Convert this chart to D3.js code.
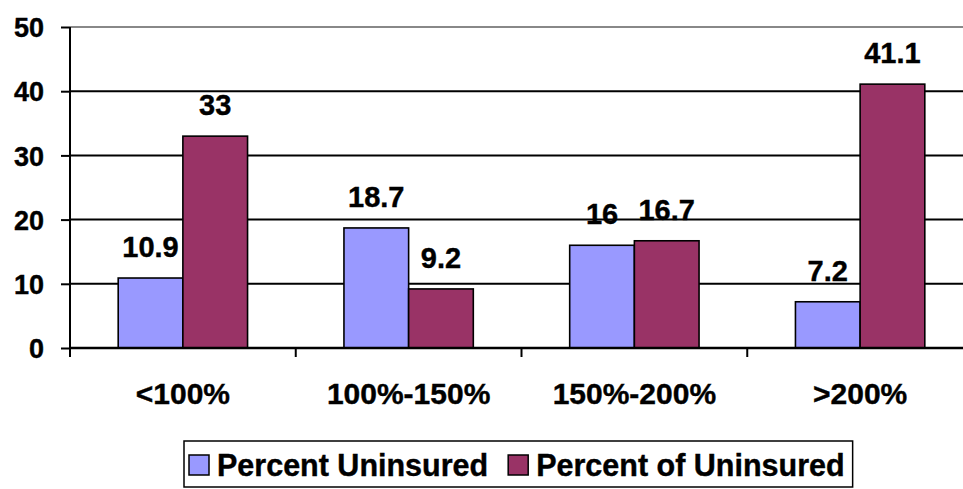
<!DOCTYPE html>
<html>
<head>
<meta charset="utf-8">
<script src="https://cdn.jsdelivr.net/npm/d3@7"></script>
<style>
  body { margin: 0; background: #fff; }
  svg { display: block; font-family: "Liberation Sans", Arial, sans-serif; font-weight: bold; }
  svg text { stroke: #000; stroke-width: 0.4px; }
</style>
</head>
<body>
<div id="chart"></div>
<script>
const categories = ["<100%", "100%-150%", "150%-200%", ">200%"]
const seriesNames = ["Percent Uninsured", "Percent of Uninsured"]
const percentUninsured = [10.9, 18.7, 16, 7.2]
const percentOfUninsured = [33, 9.2, 16.7, 41.1]
const yTicks = [0, 10, 20, 30, 40, 50]
const colors = ["#9999ff", "#993366"]

const width = 963, height = 489
const margin = {top: 27, left: 70, bottom: 141, right: -10}

const svg = d3.select("#chart").append("svg")
  .attr("width", width)
  .attr("height", height)

const rows = categories.map((c, i) => ({cat: c, values: [percentUninsured[i], percentOfUninsured[i]]}))

const x0 = d3.scaleBand()
  .domain(categories)
  .range([margin.left, width - margin.right])
  .paddingInner(0.427)
  .paddingOuter(0.2135)

const x1 = d3.scaleBand()
  .domain(d3.range(seriesNames.length))
  .range([0, x0.bandwidth()])

const y = d3.scaleLinear()
  .domain([0, 50])
  .range([height - margin.bottom, margin.top])

const plotLeft = margin.left, plotRight = width - margin.right

// gridlines + y axis
const yAxis = svg.append("g")
  .attr("transform", `translate(${plotLeft},0)`)
  .call(d3.axisLeft(y).tickValues(yTicks).tickSize(9).tickPadding(17))
yAxis.select(".domain").remove()
yAxis.selectAll(".tick line").attr("stroke", "#000").attr("stroke-width", 2)
yAxis.selectAll(".tick text")
  .attr("font-size", 27)
  .attr("fill", "#000")
  .attr("dy", "0.36em")

svg.append("g").selectAll("line")
  .data(yTicks.filter(t => t > 0))
  .join("line")
  .attr("x1", plotLeft)
  .attr("x2", plotRight)
  .attr("y1", d => y(d))
  .attr("y2", d => y(d))
  .attr("stroke", d => d === 50 ? "#888" : "#000")
  .attr("stroke-width", 2)

// bars
const groups = svg.append("g").selectAll("g")
  .data(rows)
  .join("g")
  .attr("transform", d => `translate(${x0(d.cat)},0)`)

groups.selectAll("rect")
  .data(d => d.values.map((v, i) => ({v, i})))
  .join("rect")
  .attr("x", d => x1(d.i))
  .attr("y", d => y(d.v))
  .attr("width", x1.bandwidth())
  .attr("height", d => y(0) - y(d.v))
  .attr("fill", d => colors[d.i])
  .attr("stroke", "#000")
  .attr("stroke-width", 1.6)

groups.selectAll("text")
  .data(d => d.values.map((v, i) => ({v, i})))
  .join("text")
  .attr("x", d => x1(d.i) + x1.bandwidth() / 2)
  .attr("y", d => y(d.v) - 21)
  .attr("text-anchor", "middle")
  .attr("font-size", 29)
  .attr("fill", "#000")
  .text(d => d.v)

// left axis line and bottom axis
svg.append("line")
  .attr("x1", plotLeft).attr("x2", plotLeft)
  .attr("y1", y(50)).attr("y2", y(0) + 9)
  .attr("stroke", "#000").attr("stroke-width", 2)

svg.append("line")
  .attr("x1", plotLeft).attr("x2", plotRight)
  .attr("y1", y(0)).attr("y2", y(0))
  .attr("stroke", "#000").attr("stroke-width", 2.5)

svg.append("g").selectAll("line")
  .data(categories.slice(1))
  .join("line")
  .attr("x1", d => x0(d) - x0.step() * x0.paddingInner() / 2)
  .attr("x2", d => x0(d) - x0.step() * x0.paddingInner() / 2)
  .attr("y1", y(0))
  .attr("y2", y(0) + 9)
  .attr("stroke", "#000").attr("stroke-width", 2)

svg.append("g").selectAll("text")
  .data(categories)
  .join("text")
  .attr("x", d => x0(d) + x0.bandwidth() / 2)
  .attr("y", 404)
  .attr("text-anchor", "middle")
  .attr("font-size", 30)
  .attr("fill", "#000")
  .text(d => d)

// legend
const legend = svg.append("g")
const legendTop = 441
let lx = 189
seriesNames.forEach((name, i) => {
  const g = legend.append("g")
  g.append("rect")
    .attr("x", lx).attr("y", 455)
    .attr("width", 20).attr("height", 20)
    .attr("fill", colors[i])
    .attr("stroke", "#000").attr("stroke-width", 1.5)
  const t = g.append("text")
    .attr("x", lx + 28).attr("y", 476)
    .attr("font-size", 30.5)
    .attr("fill", "#000")
    .text(name)
  lx = lx + 28 + t.node().getComputedTextLength() + 20
})

legend.insert("rect", ":first-child")
  .attr("x", 184)
  .attr("y", legendTop)
  .attr("width", lx - 20 + 8 - 184)
  .attr("height", 46)
  .attr("fill", "#fff")
  .attr("stroke", "#000")
  .attr("stroke-width", 1.5)
</script>
</body>
</html>
